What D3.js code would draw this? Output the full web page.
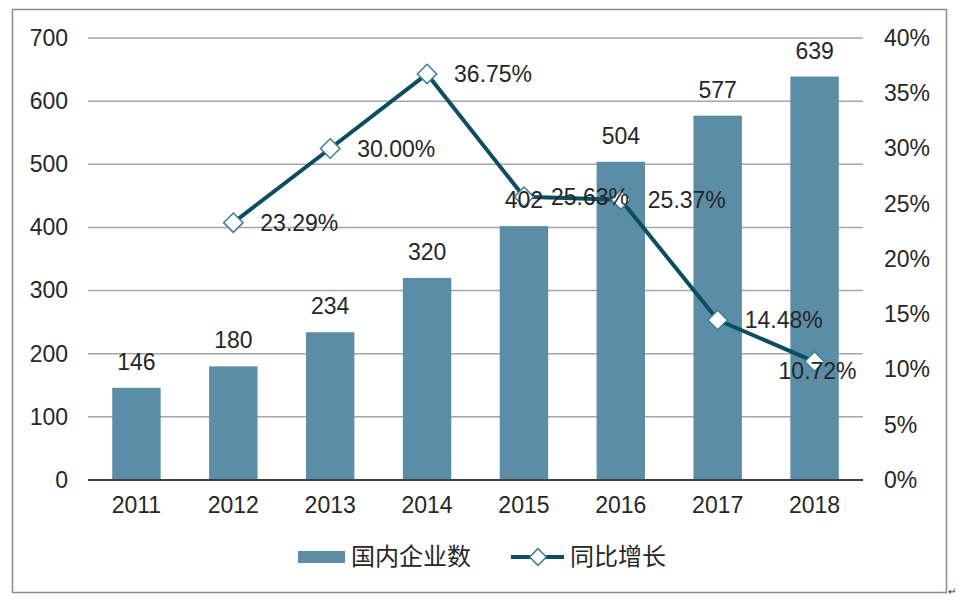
<!DOCTYPE html>
<html>
<head>
<meta charset="utf-8">
<script src="https://cdn.jsdelivr.net/npm/d3@7"></script>
<style>
  body { margin: 0; background: #fff; }
  text { font-family: "Liberation Sans", Arial, sans-serif; fill: #262626; }
  .cjk { font-family: "Noto Sans CJK SC", sans-serif; }
</style>
</head>
<body>
<div id="chart"></div>
<script>
// data
var years = ["2011", "2012", "2013", "2014", "2015", "2016", "2017", "2018"];
var companies = [146, 180, 234, 320, 402, 504, 577, 639];
var growth = [null, 23.29, 30.00, 36.75, 25.63, 25.37, 14.48, 10.72];
var leftTicks = [0, 100, 200, 300, 400, 500, 600, 700];
var rightTicks = [0, 5, 10, 15, 20, 25, 30, 35, 40];
var seriesNames = ["国内企业数", "同比增长"];

var w = 966, h = 611;
var barColor = "#5b8ea6", lineColor = "#0c4d62", markerStroke = "#3f7f90";
var fs = "23px";

var svg = d3.select("#chart")
    .append("svg")
    .attr("width", w)
    .attr("height", h);

// outer frame
svg.append("rect")
    .attr("x", 12.5).attr("y", 9.5)
    .attr("width", 934).attr("height", 583)
    .attr("fill", "none")
    .attr("stroke", "#8c8c8c")
    .attr("stroke-width", 1.5);

var x = d3.scaleBand()
    .domain(years)
    .range([88, 863])
    .paddingInner(0.5)
    .paddingOuter(0.25);

var y = d3.scaleLinear().domain([0, 700]).range([480, 38]);
var y2 = d3.scaleLinear().domain([0, 40]).range([480, 38]);

// grid lines
svg.append("g")
    .selectAll("line")
    .data(leftTicks.slice(1))
    .enter()
    .append("line")
    .attr("x1", 88).attr("x2", 863)
    .attr("y1", function(d) { return y(d); })
    .attr("y2", function(d) { return y(d); })
    .attr("stroke", "#a6a6a6")
    .attr("stroke-width", 1.5);

// left axis
var leftAxis = svg.append("g")
    .attr("transform", "translate(88,0)")
    .call(d3.axisLeft(y).tickValues(leftTicks).tickSize(0).tickPadding(20));
leftAxis.select(".domain").remove();
leftAxis.selectAll("text").style("font-size", fs).attr("fill", "#262626");

// right axis
var rightAxis = svg.append("g")
    .attr("transform", "translate(863,0)")
    .call(d3.axisRight(y2).tickValues(rightTicks).tickSize(0).tickPadding(21)
        .tickFormat(function(d) { return d + "%"; }));
rightAxis.select(".domain").remove();
rightAxis.selectAll("text").style("font-size", fs).attr("fill", "#262626");

// bars
svg.append("g")
    .selectAll("rect")
    .data(companies)
    .enter()
    .append("rect")
    .attr("x", function(d, i) { return x(years[i]); })
    .attr("y", function(d) { return y(d); })
    .attr("width", x.bandwidth())
    .attr("height", function(d) { return y(0) - y(d); })
    .attr("fill", barColor);

// x axis
var bottomAxis = svg.append("g")
    .attr("transform", "translate(0,480)")
    .call(d3.axisBottom(x).tickSize(0).tickPadding(17));
bottomAxis.select(".domain")
    .attr("d", "M88,0H863")
    .attr("stroke", "#404040")
    .attr("stroke-width", 2);
bottomAxis.selectAll("text").style("font-size", fs).attr("fill", "#262626");

// growth line
var pts = [];
for (var i = 0; i < years.length; i++) {
    if (growth[i] != null) pts.push({ year: years[i], v: growth[i], i: i });
}
var cx = function(d) { return x(d.year) + x.bandwidth() / 2; };

var line = d3.line()
    .x(cx)
    .y(function(d) { return y2(d.v); });

svg.append("path")
    .datum(pts)
    .attr("d", line)
    .attr("fill", "none")
    .attr("stroke", lineColor)
    .attr("stroke-width", 4)
    .attr("stroke-linejoin", "round");

var diamond = d3.symbol().type(d3.symbolDiamond2).size(240);

svg.append("g")
    .selectAll("path")
    .data(pts)
    .enter()
    .append("path")
    .attr("d", diamond)
    .attr("transform", function(d) { return "translate(" + cx(d) + "," + y2(d.v) + ")"; })
    .attr("fill", "#fff")
    .attr("stroke", markerStroke)
    .attr("stroke-width", 1.5);

// bar labels (drawn over the line, as in the original)
svg.append("g")
    .selectAll("text")
    .data(companies)
    .enter()
    .append("text")
    .attr("x", function(d, i) { return x(years[i]) + x.bandwidth() / 2; })
    .attr("y", function(d) { return y(d) - 18; })
    .attr("text-anchor", "middle")
    .style("font-size", fs)
    .text(function(d) { return d; });

// growth labels
svg.append("g")
    .selectAll("text")
    .data(pts)
    .enter()
    .append("text")
    .attr("x", function(d, k) { return k == pts.length - 1 ? cx(d) + 3 : cx(d) + 27; })
    .attr("y", function(d, k) { return k == pts.length - 1 ? y2(d.v) + 17 : y2(d.v) + 8; })
    .attr("text-anchor", function(d, k) { return k == pts.length - 1 ? "middle" : "start"; })
    .style("font-size", fs)
    .text(function(d) { return d.v.toFixed(2) + "%"; });

// legend
var legend = svg.append("g");
legend.append("rect")
    .attr("x", 298).attr("y", 551)
    .attr("width", 47).attr("height", 12)
    .attr("fill", barColor);
legend.append("text")
    .attr("class", "cjk")
    .attr("x", 351).attr("y", 565)
    .style("font-size", "24px")
    .text(seriesNames[0]);

legend.append("line")
    .attr("x1", 511).attr("x2", 564)
    .attr("y1", 557).attr("y2", 557)
    .attr("stroke", lineColor)
    .attr("stroke-width", 4);
legend.append("path")
    .attr("d", d3.symbol().type(d3.symbolDiamond2).size(180))
    .attr("transform", "translate(538,557)")
    .attr("fill", "#fff")
    .attr("stroke", markerStroke)
    .attr("stroke-width", 1.5);
legend.append("text")
    .attr("class", "cjk")
    .attr("x", 570).attr("y", 565)
    .style("font-size", "24px")
    .text(seriesNames[1]);

// stray return mark at the corner
svg.append("text")
    .attr("x", 948).attr("y", 595)
    .style("font-size", "10px")
    .attr("fill", "#888")
    .text("↵");
</script>
</body>
</html>
